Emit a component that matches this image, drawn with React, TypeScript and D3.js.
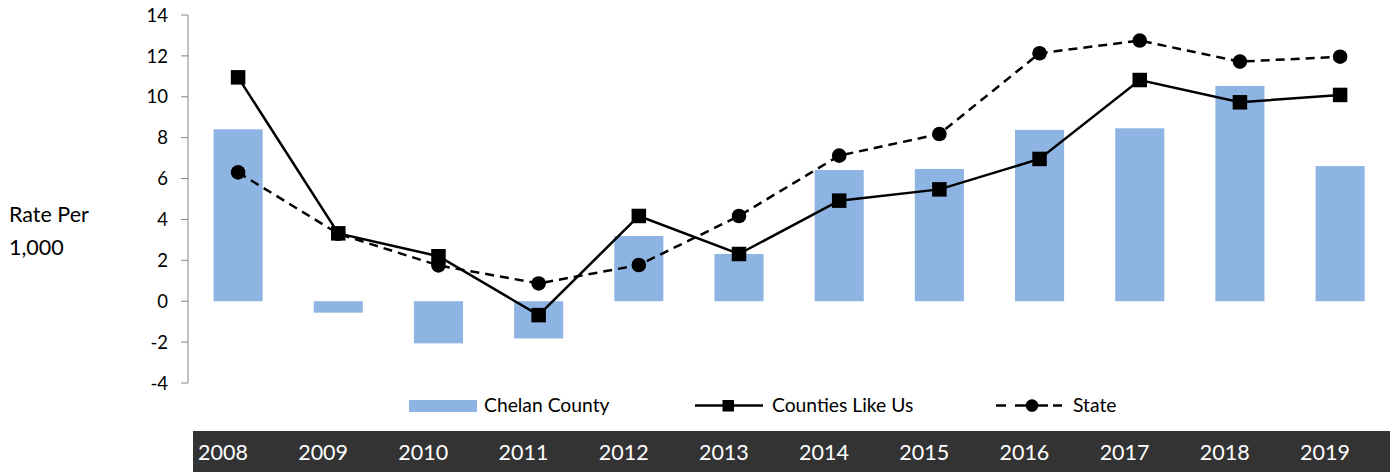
import React from "react";
import * as d3 from "d3";

const years = ["2008","2009","2010","2011","2012","2013","2014","2015","2016","2017","2018","2019"];
const chelan = [8.41,-0.56,-2.06,-1.82,3.19,2.31,6.42,6.47,8.38,8.46,10.53,6.61];
const countiesLikeUs = [10.95,3.32,2.2,-0.68,4.17,2.31,4.92,5.47,6.96,10.82,9.73,10.09];
const state = [6.3,3.3,1.75,0.87,1.77,4.17,7.12,8.18,12.13,12.75,11.72,11.96];
const yTicks = [-4,-2,0,2,4,6,8,10,12,14];

const W = 1396, H = 472;
const FONT = "Lato, 'Open Sans', sans-serif";
const BAR = "#8EB4E3";

export default function App() {
  const x = d3.scaleBand<string>().domain(years).range([188, 1390.2]).paddingInner(0.51).paddingOuter(0.255);
  const step = x.step();
  const y = d3.scaleLinear().domain([-4, 14]).range([383, 15]);
  const cx = (i: number) => (x(years[i]) as number) + x.bandwidth() / 2;
  const line = d3.line<number>().x((_, i) => cx(i)).y((d) => y(d));
  const sq = 14.5;
  return (
    <svg width={W} height={H} style={{ position: "absolute", left: 0, top: 0, fontFamily: FONT }}>
      <rect width={W} height={H} fill="#fff" />
      {/* y axis title */}
      <text x={9} y={222} fontSize={21.5} fill="#000">Rate Per</text>
      <text x={9} y={255} fontSize={21.5} fill="#000">1,000</text>
      {/* bars */}
      {chelan.map((v, i) => (
        <rect key={i} x={x(years[i])} width={x.bandwidth()} y={y(Math.max(0, v))} height={Math.abs(y(v) - y(0))} fill={BAR} />
      ))}
      {/* axis */}
      <line x1={188} x2={188} y1={y(14)} y2={y(-4)} stroke="#868686" strokeWidth={1} />
      {yTicks.map((t) => (
        <g key={t}>
          <line x1={181} x2={188} y1={y(t)} y2={y(t)} stroke="#868686" strokeWidth={1} />
          <text x={168} y={y(t)} dy="0.36em" textAnchor="end" fontSize={18.5} fill="#000">{t}</text>
        </g>
      ))}
      {/* lines */}
      <path d={line(state) as string} fill="none" stroke="#000" strokeWidth={2.5} strokeDasharray="9,6" />
      <path d={line(countiesLikeUs) as string} fill="none" stroke="#000" strokeWidth={2.5} />
      {state.map((v, i) => (
        <circle key={"c" + i} cx={cx(i)} cy={y(v)} r={7.3} fill="#000" />
      ))}
      {countiesLikeUs.map((v, i) => (
        <rect key={"s" + i} x={cx(i) - sq / 2} y={y(v) - sq / 2} width={sq} height={sq} fill="#000" />
      ))}
      {/* legend */}
      <g fontSize={19.3} fill="#000">
        <rect x={409} y={400} width={68} height={12} fill={BAR} />
        <text x={484} y={412}>Chelan County</text>
        <line x1={695} x2={763} y1={405.5} y2={405.5} stroke="#000" strokeWidth={2.5} />
        <rect x={722.5} y={400} width={11.5} height={11.5} fill="#000" />
        <text x={772} y={412}>Counties Like Us</text>
        <line x1={996} x2={1006} y1={405.5} y2={405.5} stroke="#000" strokeWidth={2.5} />
        <line x1={1015} x2={1048} y1={405.5} y2={405.5} stroke="#000" strokeWidth={2.5} />
        <line x1={1053} x2={1062} y1={405.5} y2={405.5} stroke="#000" strokeWidth={2.5} />
        <circle cx={1032} cy={405.5} r={6.3} fill="#000" />
        <text x={1073} y={412}>State</text>
      </g>
      {/* year band */}
      <rect x={193} y={431} width={1197} height={41} fill="#333333" />
      {years.map((yr, i) => (
        <text key={yr} x={188 + i * step + 10} y={460} fontSize={21.5} fill="#fff">{yr}</text>
      ))}
    </svg>
  );
}
